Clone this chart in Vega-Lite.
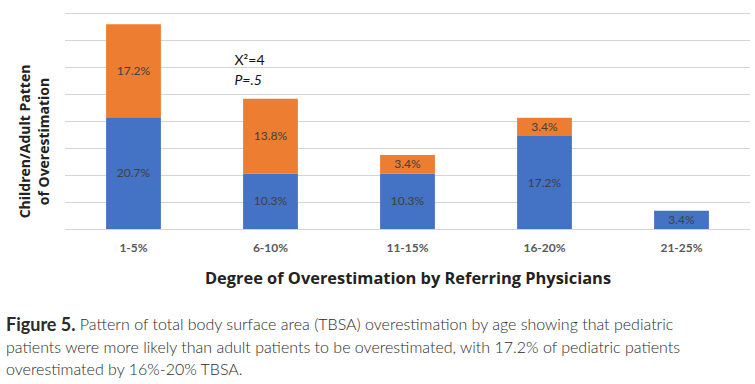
{
  "$schema": "https://vega.github.io/schema/vega-lite/v6.json",
  "width": 685,
  "height": 216,
  "autosize": {"type": "none"},
  "padding": {"left": 65, "top": 13, "right": 5, "bottom": 155},
  "background": "white",
  "config": {
    "view": {"stroke": null},
    "axisY": {
      "labels": false,
      "ticks": false,
      "domain": false,
      "grid": false,
      "titleFont": "Open Sans",
      "titleFontSize": 14,
      "titleFontWeight": "bold",
      "titleColor": "#222222",
      "titleAngle": -90,
      "titleAlign": "center",
      "titleBaseline": "top",
      "titleLineHeight": 19,
      "titleX": -47,
      "titleY": 128
    },
    "axisX": {
      "labelAngle": 0,
      "ticks": false,
      "domain": false,
      "grid": false,
      "labelFont": "Lato",
      "labelFontSize": 12,
      "labelFontWeight": "bold",
      "labelColor": "#595959",
      "labelPadding": 13,
      "titleFont": "Open Sans",
      "titleFontSize": 16.4,
      "titleFontWeight": "bold",
      "titleColor": "#222222",
      "titlePadding": 17
    }
  },
  "title": {
    "text": "Figure 5.",
    "subtitle": [
      "\u200b\u00a0\u00a0\u00a0\u00a0\u00a0\u00a0\u00a0\u00a0\u00a0\u00a0\u00a0\u00a0\u00a0\u00a0\u00a0\u00a0\u00a0Pattern of total body surface area (TBSA) overestimation by age showing that pediatric",
      "patients were more likely than adult patients to be overestimated, with 17.2% of pediatric patients",
      "overestimated by 16%-20% TBSA."
    ],
    "orient": "bottom",
    "anchor": "start",
    "frame": "group",
    "dx": -59,
    "offset": 31,
    "font": "Lato",
    "fontSize": 18,
    "fontWeight": "bold",
    "color": "#2b2b2b",
    "subtitleFont": "Lato",
    "subtitleFontSize": 16,
    "subtitleFontWeight": 300,
    "subtitleColor": "#2b2b2b",
    "subtitleLineHeight": 22.5,
    "subtitlePadding": -18
  },
  "datasets": {
    "bars": [
      {"cat": "1-5%", "group": "Children", "ord": 1, "value": 0.207},
      {"cat": "1-5%", "group": "Adult", "ord": 2, "value": 0.172},
      {"cat": "6-10%", "group": "Children", "ord": 1, "value": 0.103},
      {"cat": "6-10%", "group": "Adult", "ord": 2, "value": 0.138},
      {"cat": "11-15%", "group": "Children", "ord": 1, "value": 0.103},
      {"cat": "11-15%", "group": "Adult", "ord": 2, "value": 0.034},
      {"cat": "16-20%", "group": "Children", "ord": 1, "value": 0.172},
      {"cat": "16-20%", "group": "Adult", "ord": 2, "value": 0.034},
      {"cat": "21-25%", "group": "Children", "ord": 1, "value": 0.034}
    ],
    "grid": [
      {"g": 0}, {"g": 0.05}, {"g": 0.1}, {"g": 0.15}, {"g": 0.2},
      {"g": 0.25}, {"g": 0.3}, {"g": 0.35}, {"g": 0.4}
    ]
  },
  "layer": [
    {
      "data": {"name": "grid"},
      "mark": {"type": "rule", "color": "#d4d4d4", "strokeWidth": 1, "yOffset": 0.5},
      "encoding": {
        "y": {
          "field": "g",
          "type": "quantitative",
          "scale": {"domain": [0, 0.4], "nice": false},
          "axis": {"title": ["Children/Adult Patten", "of Overestimation"]}
        }
      }
    },
    {
      "data": {"name": "bars"},
      "transform": [
        {"stack": "value", "groupby": ["cat"], "sort": [{"field": "ord", "order": "ascending"}], "as": ["y0", "y1"]},
        {"calculate": "(datum.y0 + datum.y1) / 2", "as": "mid"}
      ],
      "encoding": {
        "x": {
          "field": "cat",
          "type": "nominal",
          "sort": ["1-5%", "6-10%", "11-15%", "16-20%", "21-25%"],
          "scale": {"paddingInner": 0.6, "paddingOuter": 0.3},
          "axis": {"title": "Degree of Overestimation by Referring Physicians"}
        }
      },
      "layer": [
        {
          "mark": {"type": "bar"},
          "encoding": {
            "y": {"field": "y0", "type": "quantitative", "axis": {"title": ["Children/Adult Patten", "of Overestimation"]}},
            "y2": {"field": "y1"},
            "color": {
              "field": "group",
              "type": "nominal",
              "scale": {"domain": ["Children", "Adult"], "range": ["#4472C4", "#ED7D31"]},
              "legend": null
            }
          }
        },
        {
          "mark": {"type": "text", "font": "Lato", "fontSize": 12, "color": "#404040", "baseline": "middle"},
          "encoding": {
            "y": {"field": "mid", "type": "quantitative", "axis": {"title": ["Children/Adult Patten", "of Overestimation"]}},
            "text": {"field": "value", "type": "quantitative", "format": ".1%"}
          }
        }
      ]
    },
    {
      "data": {"values": [{"cat": "6-10%", "y": 0.312, "t": "X\u00b2=4"}]},
      "mark": {"type": "text", "font": "Lato", "fontSize": 14, "color": "#111111", "align": "left", "baseline": "middle", "dx": -36},
      "encoding": {
        "x": {"field": "cat", "type": "nominal", "sort": ["1-5%", "6-10%", "11-15%", "16-20%", "21-25%"], "axis": {"title": "Degree of Overestimation by Referring Physicians"}},
        "y": {"field": "y", "type": "quantitative", "axis": {"title": ["Children/Adult Patten", "of Overestimation"]}},
        "text": {"field": "t"}
      }
    },
    {
      "data": {"values": [{"cat": "6-10%", "y": 0.275, "t": "P=.5"}]},
      "mark": {"type": "text", "font": "Lato", "fontSize": 14, "fontStyle": "italic", "color": "#111111", "align": "left", "baseline": "middle", "dx": -36},
      "encoding": {
        "x": {"field": "cat", "type": "nominal", "sort": ["1-5%", "6-10%", "11-15%", "16-20%", "21-25%"], "axis": {"title": "Degree of Overestimation by Referring Physicians"}},
        "y": {"field": "y", "type": "quantitative", "axis": {"title": ["Children/Adult Patten", "of Overestimation"]}},
        "text": {"field": "t"}
      }
    }
  ]
}
